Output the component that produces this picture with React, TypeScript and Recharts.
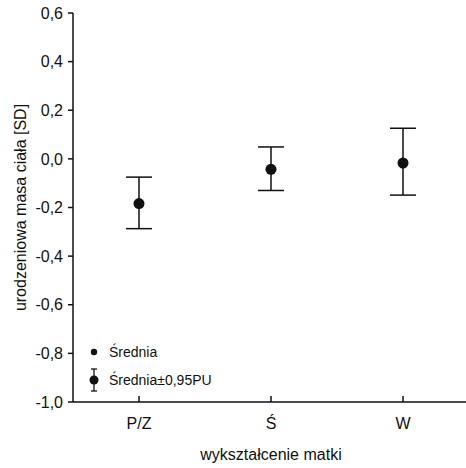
import { ComposedChart, Scatter, ErrorBar, XAxis, YAxis, Label } from 'recharts';

const categories = ['P/Z', 'Ś', 'W'];
const means = [-0.184, -0.043, -0.017];
const lower = [-0.287, -0.13, -0.149];
const upper = [-0.075, 0.049, 0.126];
const yTicks = [-1.0, -0.8, -0.6, -0.4, -0.2, 0, 0.2, 0.4, 0.6];

const data = categories.map((cat, i) => ({
  cat,
  mean: means[i],
  err: [means[i] - lower[i], upper[i] - means[i]],
}));

const INK = '#111';
const FONT = '"Liberation Sans", Arial, sans-serif';

const fmt = (v: number) => v.toFixed(1).replace('.', ',');

const XTick = ({ x, y, payload }: any) => (
  <g>
    <line x1={x} y1={y} x2={x} y2={y - 6} stroke={INK} strokeWidth={1.5} />
    <text x={x} y={y + 21} textAnchor="middle" dominantBaseline="central" fontSize={16} fill={INK} fontFamily={FONT}>
      {payload.value}
    </text>
  </g>
);

const Dot = ({ cx, cy }: any) => <circle cx={cx} cy={cy} r={5.5} fill={INK} />;

function LegendBox() {
  const row = { display: 'flex', alignItems: 'center', height: 28 } as const;
  return (
    <div style={{ position: 'absolute', left: 84, top: 338, fontFamily: FONT, fontSize: 14, color: INK }}>
      <div style={row}>
        <svg width={20} height={28}>
          <circle cx={10} cy={14} r={3.2} fill={INK} />
        </svg>
        <span style={{ marginLeft: 5 }}>Średnia</span>
      </div>
      <div style={row}>
        <svg width={20} height={28}>
          <line x1={10} y1={3} x2={10} y2={25} stroke={INK} strokeWidth={1.3} />
          <line x1={7} y1={3} x2={13} y2={3} stroke={INK} strokeWidth={1.3} />
          <line x1={7} y1={25} x2={13} y2={25} stroke={INK} strokeWidth={1.3} />
          <circle cx={10} cy={14} r={4.5} fill={INK} />
        </svg>
        <span style={{ marginLeft: 5 }}>Średnia±0,95PU</span>
      </div>
    </div>
  );
}

export default function App() {
  return (
    <div style={{ position: 'fixed', left: 0, top: 0, width: 466, height: 468, overflow: 'hidden', background: '#fff', fontFamily: FONT }}>
      <ComposedChart width={470} height={468} data={data} margin={{ top: 13, right: 1, bottom: 0, left: 13 }}>
        <XAxis
          dataKey="cat"
          type="category"
          scale="band"
          height={66}
          tickSize={0}
          tickMargin={0}
          tickLine={false}
          tick={<XTick />}
          axisLine={{ stroke: INK, strokeWidth: 1.5 }}
        >
          <Label value="wykształcenie matki" position="insideBottom" offset={8} fontSize={16} fill={INK} fontFamily={FONT} />
        </XAxis>
        <YAxis
          type="number"
          domain={[-1, 0.6]}
          ticks={yTicks}
          allowDataOverflow
          tickFormatter={fmt}
          width={60}
          tickSize={5}
          tickMargin={5}
          tick={{ fill: INK, fontSize: 16, fontFamily: FONT }}
          tickLine={{ stroke: INK, strokeWidth: 1.5 }}
          axisLine={{ stroke: INK, strokeWidth: 1.5 }}
        >
          <Label
            value="urodzeniowa masa ciała [SD]"
            angle={-90}
            position="insideLeft"
            offset={7}
            fontSize={16}
            fill={INK}
            fontFamily={FONT}
            style={{ textAnchor: 'middle' }}
          />
        </YAxis>
        <Scatter dataKey="mean" shape={<Dot />} isAnimationActive={false}>
          <ErrorBar dataKey="err" direction="y" width={13} stroke={INK} strokeWidth={1.5} />
        </Scatter>
      </ComposedChart>
      <LegendBox />
    </div>
  );
}
